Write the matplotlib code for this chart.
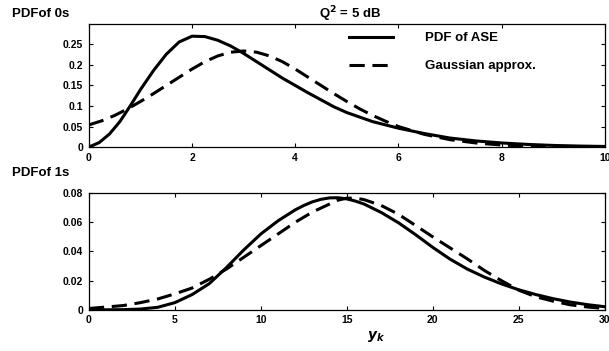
import matplotlib
matplotlib.use('Agg')
import matplotlib.pyplot as plt

plt.rcParams['font.family'] = ['Liberation Sans', 'DejaVu Sans']
plt.rcParams['font.weight'] = 'bold'
plt.rcParams['mathtext.default'] = 'bf'

# PDF of 0s (top panel)
x0_ase = [0, 0.2, 0.4, 0.6, 0.8, 1.0, 1.25, 1.5, 1.75, 2.0, 2.25, 2.5, 2.75, 3.0, 3.25, 3.5,
          3.75, 4.0, 4.25, 4.5, 4.75, 5.0, 5.5, 6.0, 6.5, 7.0, 7.5, 8.0, 8.5, 9.0, 9.5, 10.0]
y0_ase = [0, 0.011, 0.032, 0.062, 0.1, 0.14, 0.186, 0.226, 0.256, 0.27, 0.269, 0.26, 0.246,
          0.228, 0.208, 0.188, 0.168, 0.15, 0.132, 0.115, 0.098, 0.084, 0.062, 0.046, 0.033,
          0.022, 0.015, 0.01, 0.0065, 0.004, 0.0025, 0.0015]
x0_gauss = [0, 0.25, 0.5, 0.75, 1.0, 1.25, 1.5, 1.75, 2.0, 2.25, 2.5, 2.75, 3.0, 3.25, 3.5,
            3.75, 4.0, 4.25, 4.5, 4.75, 5.0, 5.25, 5.5, 5.75, 6.0, 6.5, 7.0, 7.5, 8.0, 8.5,
            9.0, 10.0]
y0_gauss = [0.054, 0.064, 0.077, 0.093, 0.111, 0.13, 0.15, 0.17, 0.19, 0.208, 0.222, 0.231,
            0.234, 0.231, 0.222, 0.208, 0.19, 0.17, 0.15, 0.13, 0.111, 0.093, 0.077, 0.063,
            0.05, 0.031, 0.018, 0.01, 0.005, 0.0025, 0.001, 0.0002]

# PDF of 1s (bottom panel)
x1_ase = [0, 2, 3, 4, 5, 6, 7, 8, 9, 10, 11, 12, 12.5, 13, 13.5, 14, 14.5, 15, 15.5, 16, 17,
          18, 19, 20, 21, 22, 23, 24, 25, 26, 27, 28, 29, 30]
y1_ase = [0, 0.0002, 0.0006, 0.0018, 0.005, 0.0105, 0.018, 0.029, 0.041, 0.052, 0.061,
          0.0685, 0.0715, 0.074, 0.0757, 0.0767, 0.0768, 0.076, 0.0745, 0.0725, 0.0667,
          0.0597, 0.0515, 0.0428, 0.0348, 0.028, 0.0225, 0.0178, 0.0138, 0.0105, 0.0077,
          0.0054, 0.0036, 0.0022]
x1_gauss = [0, 1, 2, 3, 4, 5, 6, 7, 8, 9, 10, 11, 12, 13, 14, 14.5, 15, 15.5, 16, 17, 18, 19,
            20, 21, 22, 23, 24, 25, 26, 27, 28, 29, 30]
y1_gauss = [0.001, 0.002, 0.003, 0.005, 0.0075, 0.011, 0.015, 0.021, 0.028, 0.036, 0.044,
            0.052, 0.06, 0.067, 0.0725, 0.0752, 0.0765, 0.0765, 0.0755, 0.0715, 0.0655,
            0.0578, 0.05, 0.0425, 0.035, 0.027, 0.02, 0.0135, 0.009, 0.006, 0.0035, 0.002,
            0.001]

xticks0 = [0, 2, 4, 6, 8, 10]
yticks0 = [0, 0.05, 0.1, 0.15, 0.2, 0.25]
yticklabels0 = ['0', '0.05', '0.1', '0.15', '0.2', '0.25']
xticks1 = [0, 5, 10, 15, 20, 25, 30]
yticks1 = [0, 0.02, 0.04, 0.06, 0.08]
yticklabels1 = ['0', '0.02', '0.04', '0.06', '0.08']

fig = plt.figure(figsize=(6.09, 3.51), dpi=100)
ax1 = fig.add_axes([0.146, 0.581, 0.847, 0.351])
ax2 = fig.add_axes([0.146, 0.117, 0.847, 0.333])

def style(ax):
    ax.tick_params(direction='in', length=3, width=0.8, labelsize=7.5, top=True, right=True,
                   pad=4)
    for s in ax.spines.values():
        s.set_linewidth(0.9)
    for lab in ax.get_xticklabels() + ax.get_yticklabels():
        lab.set_fontweight('bold')

ax1.plot(x0_ase, y0_ase, color='black', lw=2.2, label='PDF of ASE')
ax1.plot(x0_gauss, y0_gauss, color='black', lw=2.2, dashes=(5, 2.5), label='Gaussian approx.')
ax1.set_xlim(0, 10)
ax1.set_ylim(0, 0.3)
ax1.set_xticks(xticks0)
ax1.set_yticks(yticks0)
ax1.set_yticklabels(yticklabels0)
style(ax1)
ax1.legend(loc='upper left', bbox_to_anchor=(0.482, 1.03), frameon=False,
           handlelength=3.3, handletextpad=2.4, labelspacing=1.2,
           prop={'weight': 'bold', 'size': 9.5})

ax2.plot(x1_ase, y1_ase, color='black', lw=2.2)
ax2.plot(x1_gauss, y1_gauss, color='black', lw=2.2, dashes=(5, 2.5))
ax2.set_xlim(0, 30)
ax2.set_ylim(0, 0.08)
ax2.set_xticks(xticks1)
ax2.set_yticks(yticks1)
ax2.set_yticklabels(yticklabels1)
style(ax2)

fig.text(0.02, 0.96, 'PDFof 0s', fontsize=9.5, fontweight='bold', va='center')
fig.text(0.575, 0.96, 'Q$^2$ = 5 dB', fontsize=9.5, fontweight='bold', va='center',
         ha='center')
fig.text(0.02, 0.508, 'PDFof 1s', fontsize=9.5, fontweight='bold', va='center')
fig.text(0.617, 0.04, '$\\mathit{y_k}$', fontsize=10, va='center', ha='center')

fig.savefig('out.png', dpi=100)
